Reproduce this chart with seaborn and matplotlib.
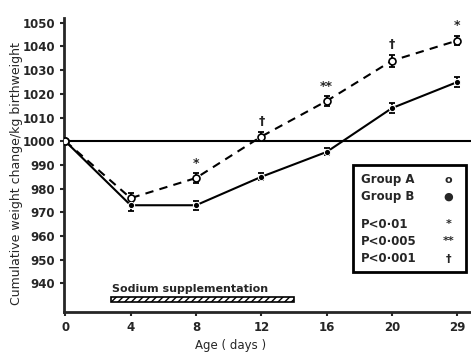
import numpy as np
import pandas as pd
import seaborn as sns
import matplotlib.pyplot as plt
from matplotlib.patches import Rectangle

# values
days = ['0', '4', '8', '12', '16', '20', '29']
group_a = [1000, 976, 984.5, 1002, 1017, 1034, 1042.5]
group_a_err = [0, 2, 2, 2, 2, 2.5, 2]
group_b = [1000, 973, 973, 985, 995.5, 1014, 1025]
group_b_err = [0, 2.5, 2, 1.5, 1.5, 2, 2]
signif = ['', '', '*', '†', '**', '†', '*']

sns.set_style('ticks')
plt.rcParams['font.family'] = ['Liberation Sans Narrow', 'DejaVu Sans']
plt.rcParams['font.weight'] = 'bold'

pos = np.arange(len(days))
df = pd.DataFrame({'pos': np.concatenate([pos, pos]),
                   'value': group_a + group_b,
                   'group': ['A'] * len(days) + ['B'] * len(days)})

fig = plt.figure(figsize=(4.71, 3.54), dpi=100)
ax = fig.add_axes([0.136, 0.119, 0.864, 0.83])

ax.axhline(1000, color='black', lw=1.5, zorder=1)

sns.lineplot(data=df[df.group == 'A'], x='pos', y='value', ax=ax, color='black',
             lw=1.5, linestyle=(0, (4, 3)), marker='o', markerfacecolor='white',
             markeredgecolor='black', markeredgewidth=1.2, markersize=5, zorder=3)
sns.lineplot(data=df[df.group == 'B'], x='pos', y='value', ax=ax, color='black',
             lw=1.5, marker='o', markersize=4.5, zorder=3)
ax.errorbar(pos[1:], group_a[1:], yerr=group_a_err[1:], fmt='none', ecolor='black',
            elinewidth=1.3, capsize=2.5, capthick=1.3, zorder=2)
ax.errorbar(pos[1:], group_b[1:], yerr=group_b_err[1:], fmt='none', ecolor='black',
            elinewidth=1.3, capsize=2.5, capthick=1.3, zorder=2)
# day 0 start point
ax.plot(0, 1000, 'o', mfc='white', mec='black', mew=1.2, ms=5, zorder=4)

for p, v, e, s in zip(pos, group_a, group_a_err, signif):
    if s:
        ax.text(p, v + e + 1.5, s, ha='center', va='bottom', fontsize=9, fontweight='bold')

# sodium supplementation bar
ax.add_patch(Rectangle((0.7, 932), 2.8, 2.2, facecolor='white', edgecolor='black',
                       hatch='/////', lw=1.2))
ax.text(0.72, 935.5, 'Sodium supplementation', fontsize=8, va='bottom')

# legend box
ax.add_patch(Rectangle((0.71, 0.136), 0.277, 0.364, transform=ax.transAxes,
                       facecolor='white', edgecolor='black', lw=2, zorder=5))
labels = ['Group A', 'Group B', 'P<0·01', 'P<0·005', 'P<0·001']
symbols = ['o', '●', '*', '**', '†']
ys = [0.449, 0.391, 0.299, 0.241, 0.180]
for lab, sym, yy in zip(labels, symbols, ys):
    ax.text(0.73, yy, lab, transform=ax.transAxes, fontsize=8.5, va='center', zorder=6)
    ax.text(0.945, yy, sym, transform=ax.transAxes, fontsize=8, va='center', ha='center', zorder=6)

ax.set_xlim(-0.02, 6.21)
ax.set_ylim(928, 1052)
ax.set_xticks(pos)
ax.set_xticklabels(days)
ax.set_yticks(np.arange(940, 1051, 10))
ax.tick_params(labelsize=8.5, width=1.5, length=3)
ax.set_xlabel('Age ( days )', fontsize=8.5)
ax.xaxis.set_label_coords(0.41, -0.092)
ax.set_ylabel('Cumulative weight change/kg birthweight', fontsize=9)
ax.yaxis.set_label_coords(-0.1, 0.47)
for side in ['top', 'right']:
    ax.spines[side].set_visible(False)
for side in ['left', 'bottom']:
    ax.spines[side].set_linewidth(2)

plt.savefig('out.png', dpi=100)
